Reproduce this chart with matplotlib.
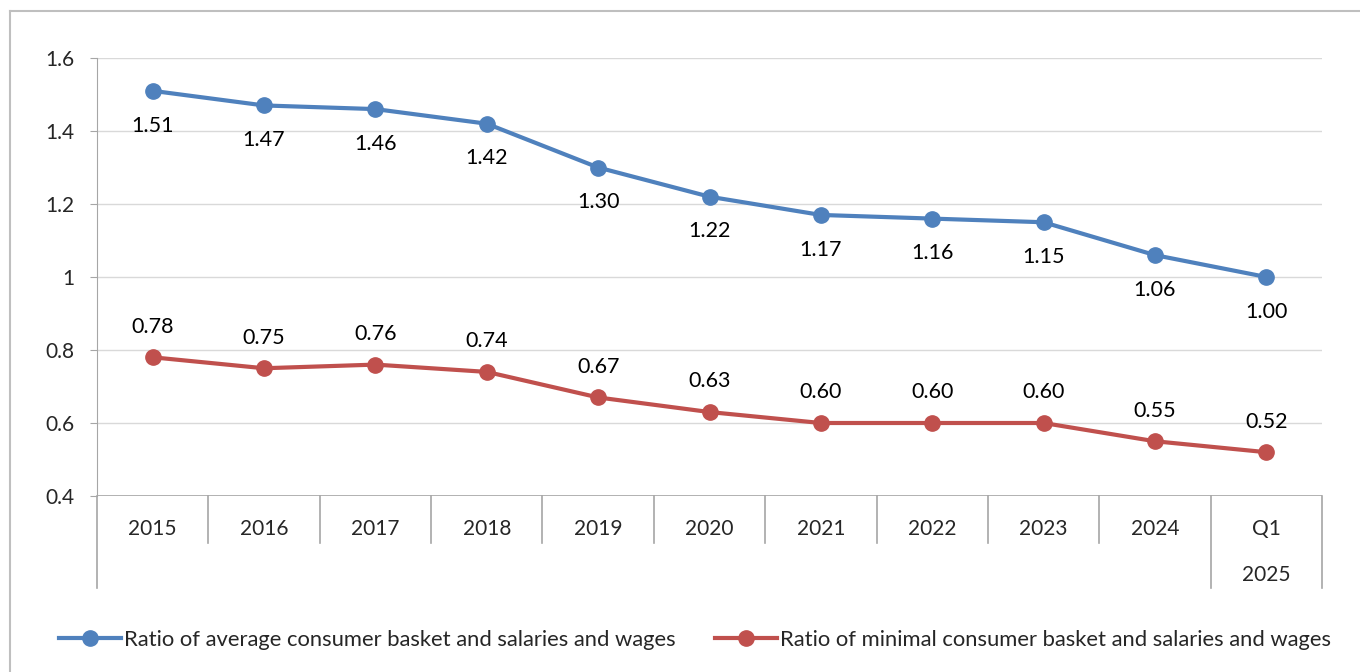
import numpy as np
import matplotlib.pyplot as plt
from matplotlib.lines import Line2D

plt.rcParams['font.family'] = ['Lato', 'DejaVu Sans']

# data
years = ['2015', '2016', '2017', '2018', '2019', '2020', '2021', '2022', '2023', '2024', 'Q1']
avg_ratio = [1.51, 1.47, 1.46, 1.42, 1.30, 1.22, 1.17, 1.16, 1.15, 1.06, 1.00]
min_ratio = [0.78, 0.75, 0.76, 0.74, 0.67, 0.63, 0.60, 0.60, 0.60, 0.55, 0.52]
yticks = [0.4, 0.6, 0.8, 1.0, 1.2, 1.4, 1.6]
ytick_labels = ['0.4', '0.6', '0.8', '1', '1.2', '1.4', '1.6']
avg_name = 'Ratio of average consumer basket and salaries and wages'
min_name = 'Ratio of minimal consumer basket and salaries and wages'

blue = '#4F81BD'
red = '#C0504D'
axis_gray = '#A6A6A6'
grid_gray = '#D9D9D9'
txt = '#262626'

W, H = 1360, 672
fig = plt.figure(figsize=(13.6, 6.72), dpi=100)

def fx(px):
    return px / W

def fy(py):
    return 1 - py / H

ax = fig.add_axes([fx(97), fy(496), fx(1322) - fx(97), fy(58) - fy(496)])
x = np.arange(len(years))

ax.plot(x, avg_ratio, color=blue, lw=3, marker='o', ms=11, label=avg_name, zorder=3)
ax.plot(x, min_ratio, color=red, lw=3, marker='o', ms=11, label=min_name, zorder=3)

for xi, v in zip(x, avg_ratio):
    ax.annotate(f'{v:.2f}', (xi, v), xytext=(0, -25), textcoords='offset points',
                ha='center', va='center', fontsize=15.5, color='black')
for xi, v in zip(x, min_ratio):
    ax.annotate(f'{v:.2f}', (xi, v), xytext=(0, 22), textcoords='offset points',
                ha='center', va='center', fontsize=15.5, color='black')

ax.set_xlim(-0.5, len(years) - 0.5)
ax.set_ylim(0.4, 1.6)
ax.set_yticks(yticks)
ax.set_yticklabels(ytick_labels, fontsize=15, color=txt)
ax.tick_params(axis='y', length=5, color=axis_gray, pad=11)
ax.set_xticks([])
ax.grid(axis='y', color=grid_gray, lw=1)
ax.set_axisbelow(True)
for s in ['top', 'right', 'bottom']:
    ax.spines[s].set_visible(False)
ax.spines['left'].set_color(axis_gray)

# category axis drawn as multi-level labels
trans = ax.get_xaxis_transform()
ax.axhline(0.4, color=axis_gray, lw=1.2, zorder=2)
for i in range(len(years) + 1):
    long = i in (0, len(years) - 1, len(years))
    bottom = fy(588) if long else fy(543)
    fig.add_artist(Line2D([fx(97 + i * (1225 / len(years)))] * 2, [fy(496), bottom],
                          color=axis_gray, lw=1.2))
for xi, lab in zip(x, years):
    ax.text(xi, -0.075, lab, transform=trans, ha='center', va='center',
            fontsize=15, color=txt)
ax.text(x[-1], -0.18, '2025', transform=trans, ha='center', va='center',
        fontsize=15, color=txt)

# outer chart border
fig.add_artist(Line2D([fx(10), fx(10)], [fy(11), 0], color='#BFBFBF', lw=1.5))
fig.add_artist(Line2D([fx(10), 1], [fy(11), fy(11)], color='#BFBFBF', lw=1.5))

fig.legend(loc='center', bbox_to_anchor=(fx(695), fy(640)), ncol=2, frameon=False,
           fontsize=15.8, handlelength=2.8, handletextpad=0.15, columnspacing=1.8,
           labelcolor=txt)

fig.savefig('out.png', dpi=100)
